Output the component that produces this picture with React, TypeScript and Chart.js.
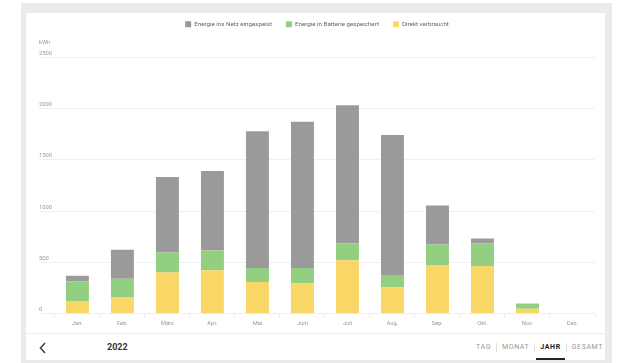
import React, { useEffect, useRef } from "react";
import { Chart, registerables } from "chart.js";

Chart.register(...registerables);

const months = ["Jan.", "Feb.", "März", "Apr.", "Mai", "Juni", "Juli", "Aug.", "Sep.", "Okt.", "Nov.", "Dez."];
const direktVerbraucht = [120, 164, 403, 423, 309, 297, 522, 258, 474, 464, 48, 0];
const batterieGespeichert = [196, 178, 194, 193, 136, 148, 162, 113, 200, 220, 52, 0];
const netzEingespeist = [55, 281, 735, 774, 1334, 1425, 1347, 1370, 380, 48, 0, 0];
const yMin = 0;
const yMax = 2500;
const yStep = 500;
const unitLabel = "kWh";
const yearLabel = "2022";
const periodTabs = ["TAG", "MONAT", "JAHR", "GESAMT"];
const activeTab = "JAHR";

const FONT = "Roboto, 'Helvetica Neue', Arial, sans-serif";

export default function App() {
  const canvasRef = useRef<HTMLCanvasElement | null>(null);

  useEffect(() => {
    const canvas = canvasRef.current;
    if (!canvas) return;
    const chart = new Chart(canvas, {
      type: "bar",
      data: {
        labels: months,
        datasets: [
          { label: "Direkt verbraucht", data: direktVerbraucht, backgroundColor: "#f9d766" },
          { label: "Energie in Batterie gespeichert", data: batterieGespeichert, backgroundColor: "#92cf80" },
          { label: "Energie ins Netz eingespeist", data: netzEingespeist, backgroundColor: "#9a9a9a" },
        ],
      },
      options: {
        responsive: false,
        animation: false,
        devicePixelRatio: 1,
        layout: { padding: { left: 39, right: 25, top: 7.2, bottom: 4.3 } },
        datasets: { bar: { categoryPercentage: 1, barPercentage: 0.51 } },
        plugins: {
          tooltip: { enabled: false },
          legend: {
            position: "top",
            weight: 3000,
            reverse: true,
            labels: {
              boxWidth: 6,
              boxHeight: 6,
              padding: 14,
              color: "#666",
              font: { family: FONT, size: 6.2 },
            },
          },
          title: {
            display: true,
            text: unitLabel,
            align: "start",
            color: "#999",
            font: { family: FONT, size: 5.8, weight: "normal" },
            padding: { top: 1.8, bottom: 11 },
          },
        },
        scales: {
          x: {
            stacked: true,
            grid: { display: true, drawOnChartArea: false, drawTicks: true, tickLength: 4, color: "#ececec" },
            border: { display: false },
            ticks: { color: "#999", padding: 2, font: { family: FONT, size: 5.8 }, maxRotation: 0, autoSkip: false },
          },
          y: {
            stacked: true,
            min: yMin,
            max: yMax,
            grid: { color: "#f0f0f0", drawTicks: true, tickLength: 15.9 },
            border: { display: false },
            afterFit: (scale: any) => {
              scale.width = 15.9;
            },
            ticks: {
              stepSize: yStep,
              color: "#999",
              crossAlign: "far",
              labelOffset: -4,
              padding: 0,
              font: { family: FONT, size: 5.8 },
              callback: (v: any) => String(v),
            },
          },
        },
      },
    });
    return () => chart.destroy();
  }, []);

  return (
    <div style={{ position: "absolute", left: 0, top: 0, width: 620, height: 363, overflow: "hidden", background: "#fff", fontFamily: FONT }}>
      <div style={{ position: "absolute", left: 21, top: 3, width: 591, height: 370, background: "#ebebeb" }} />
      <div style={{ position: "absolute", left: 26, top: 13, width: 579, height: 347, background: "#fff" }} />
      <div style={{ position: "absolute", left: 26, top: 333, width: 579, height: 1, background: "#ececec" }} />
      <canvas ref={canvasRef} width={620} height={333} style={{ position: "absolute", left: 0, top: 0, width: 620, height: 333 }} />
      <svg style={{ position: "absolute", left: 39, top: 342 }} width={8} height={12} viewBox="0 0 8 12">
        <polyline points="6,1 1.5,6 6,11" fill="none" stroke="#444" strokeWidth={1.6} />
      </svg>
      <div style={{ position: "absolute", left: 107, top: 341, fontSize: 9, fontWeight: 700, color: "#333", lineHeight: "12px" }}>{yearLabel}</div>
      <div style={{ position: "absolute", right: 17, top: 342, display: "flex", alignItems: "center", height: 10 }}>
        {periodTabs.map((t, i) => (
          <div key={t} style={{ display: "flex", alignItems: "center", height: 10 }}>
            {i > 0 && <div style={{ width: 1, height: 9, background: "#ddd", margin: "0 5px" }} />}
            <div
              style={{
                position: "relative",
                fontSize: 7,
                letterSpacing: 0.6,
                lineHeight: "10px",
                color: t === activeTab ? "#222" : "#999",
                fontWeight: t === activeTab ? 700 : 400,
              }}
            >
              {t}
              {t === activeTab && (
                <div style={{ position: "absolute", left: -4, right: -4, top: 16, height: 2, background: "#222" }} />
              )}
            </div>
          </div>
        ))}
      </div>
    </div>
  );
}
